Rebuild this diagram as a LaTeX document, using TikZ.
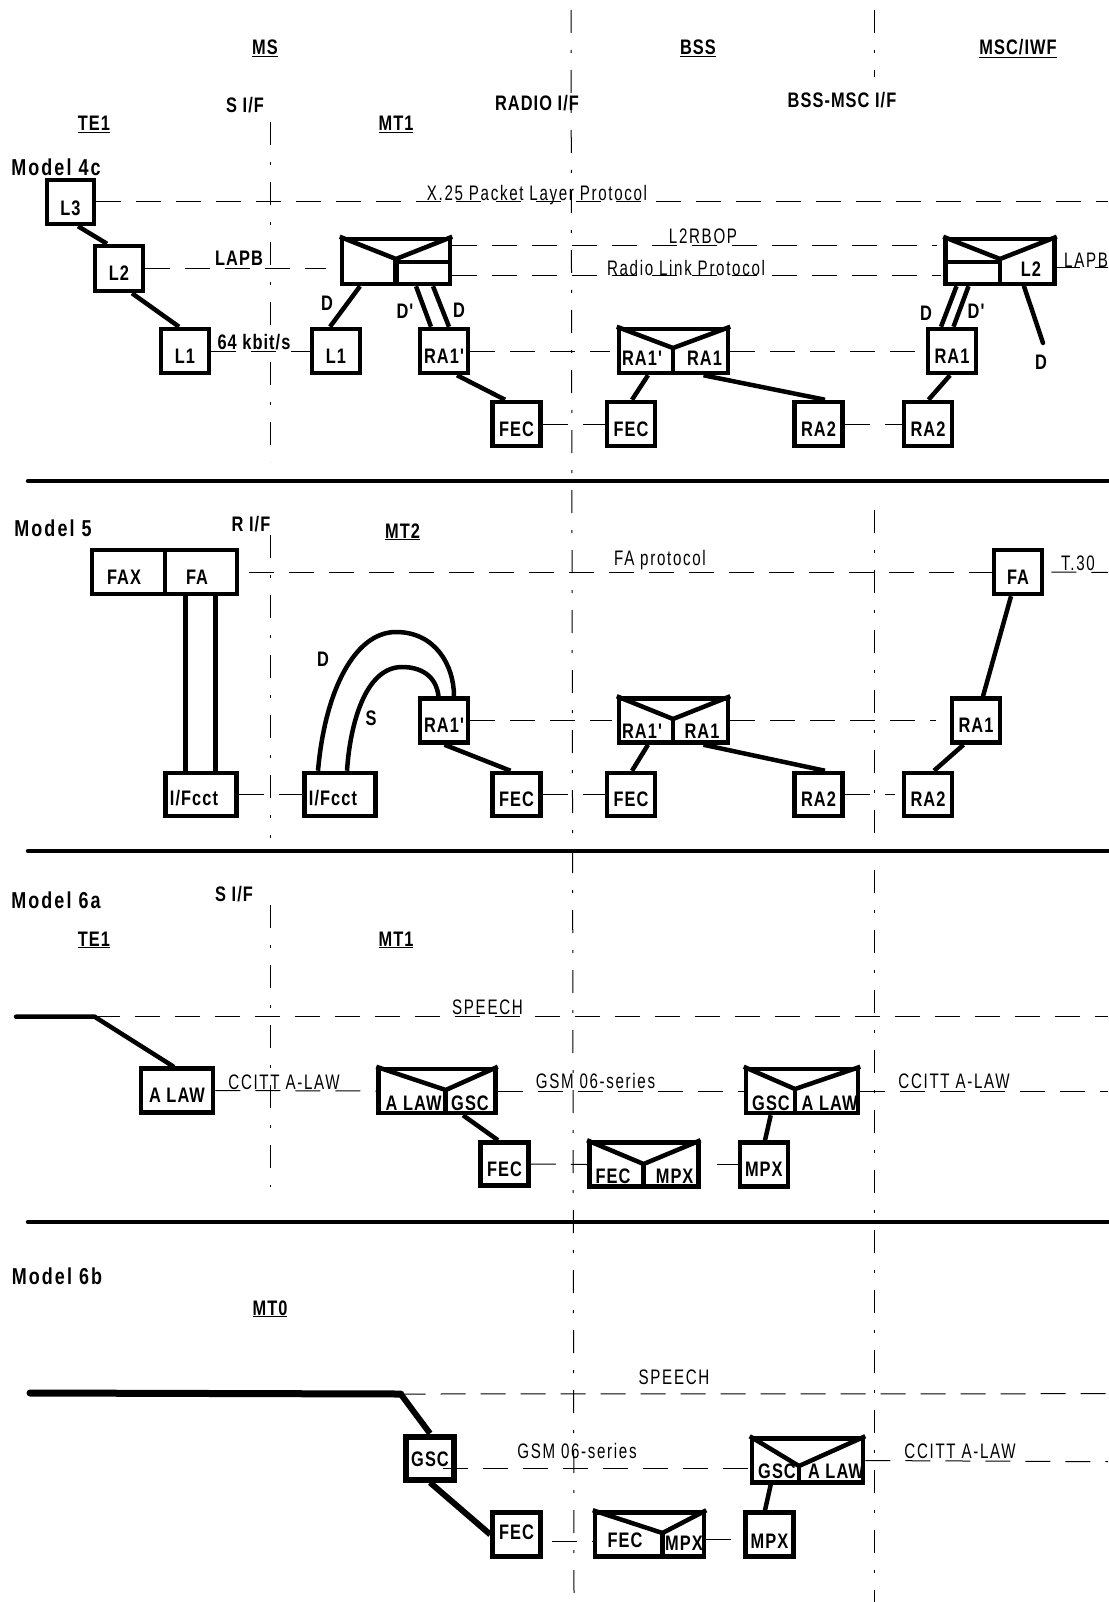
\documentclass[tikz,border=0pt]{standalone}
\usepackage{fontspec}
\setmainfont{Liberation Sans}[Ligatures=TeXOff,FakeStretch=0.72,LetterSpace=8]
\newfontfamily\bfam{Liberation Sans Bold}[Ligatures=TeXOff,FakeStretch=0.78,LetterSpace=5]
\newfontfamily\mfam{Liberation Sans Bold}[Ligatures=TeXOff,FakeStretch=0.78,LetterSpace=9]
\tikzset{
lyr/.style={line width=4.5pt},
hrule/.style={line width=4.5pt,line cap=round},
dashrow/.style={line width=1pt,dash pattern=on 25pt off 15pt},
ifline/.style={line width=1pt,dash pattern=on 23pt off 17pt on 3pt off 17pt},
boxn/.style={draw,line width=4.5pt,inner sep=0pt,minimum width=48pt,minimum height=44pt,text height=25pt,text depth=1pt,font=\fontsize{21}{24}\bfam},
txt/.style={anchor=base,inner sep=0pt,font=\fontsize{21}{24}\selectfont},
btxt/.style={anchor=base,inner sep=0pt,font=\fontsize{21}{24}\bfam},
mtxt/.style={anchor=base,inner sep=0pt,font=\fontsize{23}{26}\mfam}
}
\begin{document}
\begin{tikzpicture}[x=1pt,y=-1pt]
\useasboundingbox (0,0) rectangle (1108,1602);
\coordinate (sa0) at (270,122);
\coordinate (sa1) at (270,462);
\coordinate (ra0) at (270,535);
\coordinate (ra1) at (270,838);
\coordinate (sb0) at (270,905);
\coordinate (sb1) at (270,1187);
\coordinate (radio0) at (571,10);
\coordinate (radio1) at (574,1595);
\coordinate (bm0) at (874,10);
\coordinate (bm1) at (874,77);
\coordinate (bm2) at (874,510);
\coordinate (bm3) at (874,1602);
\draw[ifline] (sa0) -- (sa1);
\draw[ifline] (ra0) -- (ra1);
\draw[ifline] (sb0) -- (sb1);
\draw[ifline] (radio0) -- (radio1);
\draw[ifline] (bm0) -- (bm1);
\draw[ifline] (bm2) -- (bm3);
\coordinate (rl1) at (28,481);
\coordinate (rr1) at (1108,481);
\coordinate (rl2) at (28,851);
\coordinate (rr2) at (1108,851);
\coordinate (rl3) at (28,1222);
\coordinate (rr3) at (1108,1222);
\draw[hrule] (rl1) -- (rr1);
\draw[hrule] (rl2) -- (rr2);
\draw[hrule] (rl3) -- (rr3);

\node[btxt] (tms) at (265,55) {\underline{MS}};
\node[btxt] (tbss) at (698,55) {\underline{BSS}};
\node[btxt] (tmsc) at (1018,55) {\underline{MSC/IWF}};
\node[btxt] (tsif) at (245,113) {S I/F};
\node[btxt] (tradio) at (537,111) {RADIO I/F};
\node[btxt] (tbm) at (842,108) {BSS-MSC I/F};
\node[btxt] (tte) at (94,131) {\underline{TE1}};
\node[btxt] (tmt) at (396,131) {\underline{MT1}};
\node[mtxt] (tm4) at (56,176) {Model 4c};
\node[txt] (tx25) at (537,201) {X.25 Packet Layer Protocol};
\node[txt] (tl2r) at (703,244) {L2RBOP};
\node[txt] (trlp) at (686,276) {Radio Link Protocol};
\node[btxt] (tlapb) at (239,266) {LAPB};
\node[txt,anchor=base west] (tlapc) at (1064,268) {LAPB};
\node[btxt] (t64) at (254,349) {64 kbit/s};
\node[btxt] (td1) at (327,311) {D};
\node[btxt] (td2) at (405,318) {D'};
\node[btxt] (td3) at (459,317) {D};
\node[btxt] (td4) at (926,320) {D};
\node[btxt] (td5) at (976,318) {D'};
\node[btxt] (td6) at (1041,369) {D};

\node[boxn,minimum width=47pt,text height=28pt] (l3) at (70.5,202) {L3};
\node[boxn,minimum height=45pt] (l2) at (119,268.5) {L2};
\node[boxn] (l1a) at (185,351) {L1};
\node[boxn] (l1b) at (336,351) {L1};
\node[boxn] (ra1a) at (444,351) {RA1'};
\node[boxn] (feca) at (516.5,424) {FEC};
\node[boxn] (fecb) at (631,424) {FEC};
\node[boxn] (ra2a) at (818.5,424) {RA2};
\node[boxn] (ra2b) at (928,424) {RA2};
\node[boxn] (ra1b) at (952,351) {RA1};
\node[boxn,minimum width=108pt,minimum height=45pt] (env1) at (396,261.5) {};
\node[boxn,minimum width=109pt] (env2) at (673.5,351) {};
\node[boxn,minimum width=109pt,minimum height=45pt] (env3) at (1000,261.5) {};
\node[btxt] (t21) at (642,365) {RA1'};
\node[btxt] (t22) at (704.5,365) {RA1};
\node[btxt] (t31) at (1031,277) {L2};
\coordinate (env1v) at (396,259);
\coordinate (env1h) at (396,262);
\coordinate (env2v) at (673,348);
\coordinate (env3v) at (1000,259);
\coordinate (env3h) at (1000,262);
\draw[lyr] (env1.north west) -- (env1v) -- (env1.north east);
\draw[line width=6pt] (env1v) -- (env1v |- env1.south);
\draw[lyr] (env1h) -- (env1h -| env1.east);
\draw[lyr] (env2.north west) -- (env2v) -- (env2.north east);
\draw[lyr] (env2v) -- (env2v |- env2.south);
\draw[lyr] (env3.north west) -- (env3v) -- (env3.north east);
\draw[lyr] (env3v) -- (env3v |- env3.south);
\draw[lyr] (env3h) -- (env3h -| env3.west);

\draw[lyr] ([xshift=7.5pt]l3.south) -- ([xshift=-12pt]l2.north);
\draw[lyr] ([xshift=13pt]l2.south) -- ([xshift=-6pt]l1a.north);
\draw[lyr] ([xshift=-36pt]env1.south) -- ([xshift=-6pt]l1b.north);
\draw[lyr] ([xshift=20pt]env1.south) -- ([xshift=-13pt]ra1a.north);
\draw[lyr] ([xshift=37pt]env1.south) -- ([xshift=5pt]ra1a.north);
\draw[lyr] ([xshift=13pt]ra1a.south) -- ([xshift=-11.5pt]feca.north);
\draw[lyr] ([xshift=-25.5pt]env2.south) -- ([xshift=1pt]fecb.north);
\draw[lyr] ([xshift=30pt]env2.south) -- ([xshift=6.5pt]ra2a.north);
\draw[lyr] ([xshift=-2pt]ra1b.south) -- ([xshift=0.5pt]ra2b.north);
\draw[lyr] ([xshift=-43.5pt]env3.south) -- ([xshift=-11pt]ra1b.north);
\draw[lyr] ([xshift=-31.5pt]env3.south) -- ([xshift=1.5pt]ra1b.north);
\coordinate (dend) at (1043,343);
\draw[lyr,line cap=round] ([xshift=24pt]env3.south) -- (dend);

\coordinate (x25r) at (1108,202);
\coordinate (lapr) at (1108,268);
\coordinate (rowa) at (1055,268);
\draw[dashrow] (l3.east) -- (x25r);
\draw[dashrow] (l2.east) -- ([xshift=-14pt]env1.west |- l2.east);
\draw[dashrow] ([yshift=-14.5pt]env1.east) -- ([yshift=-14.5pt,xshift=-2pt]env3.west);
\draw[dashrow] ([yshift=15.5pt]env1.east) -- ([yshift=15.5pt,xshift=-6pt]env3.west);
\draw[dashrow] (rowa) -- (lapr);
\draw[dashrow] (l1a.east) -- (l1b.west);
\draw[dashrow] (ra1a.east) -- ([xshift=-7pt]env2.west);
\draw[dashrow] (env2.east) -- (ra1b.west);
\draw[dashrow] (feca.east) -- (fecb.west);
\draw[dashrow] (ra2a.east) -- (ra2b.west);

\node[mtxt] (tm5) at (53,536) {Model 5};
\node[btxt] (trif) at (251,531) {R I/F};
\node[btxt] (tmt2) at (402.5,538) {\underline{MT2}};
\node[txt] (tfap) at (660,565) {FA protocol};
\node[txt] (tt30) at (1078,570) {T.30};
\node[btxt] (tdc) at (323,666) {D};
\node[btxt] (tsc) at (371,725) {S};

\node[boxn,minimum width=73pt] (fax) at (128.5,572) {FAX\hspace*{9pt}};
\node[boxn,minimum width=72pt] (faa) at (201,572) {FA\hspace*{8pt}};
\node[boxn] (fab) at (1018,572) {FA};
\node[boxn,minimum width=71pt,minimum height=43pt,text height=22pt] (ifa) at (201,794.5) {I/Fcct\hspace*{14pt}};
\node[boxn,minimum width=71pt,minimum height=43pt,text height=22pt] (ifb) at (340,794.5) {I/Fcct\hspace*{14pt}};
\node[boxn] (ra1c) at (444,720.5) {RA1'};
\node[boxn,minimum height=43pt] (fecc) at (516.5,794.5) {FEC};
\node[boxn,minimum height=43pt] (fecd) at (631,794.5) {FEC};
\node[boxn,minimum height=43pt] (ra2c) at (818.5,794.5) {RA2};
\node[boxn,minimum height=43pt] (ra2d) at (928,794.5) {RA2};
\node[boxn] (ra1d) at (976,720.5) {RA1};
\node[boxn,minimum width=109pt] (env4) at (673.5,720.5) {};
\node[btxt] (t41) at (642,738) {RA1'};
\node[btxt] (t42) at (702,738) {RA1};
\coordinate (env4v) at (673,719);
\draw[lyr] (env4.north west) -- (env4v) -- (env4.north east);
\draw[lyr] (env4v) -- (env4v |- env4.south);

\draw[lyr] ([xshift=-15.5pt]faa.south) -- ([xshift=-15.5pt]ifa.north);
\draw[lyr] ([xshift=14.5pt]faa.south) -- ([xshift=14.5pt]ifa.north);
\draw[lyr] ([xshift=-22pt]ifb.north) .. controls (325,690) and (355,632) .. (396,632) .. controls (435,632) and (454,665) .. ([xshift=10pt]ra1c.north);
\draw[lyr] ([xshift=7pt]ifb.north) .. controls (350,725) and (365,667) .. (402,667) .. controls (420,667) and (436,675) .. ([xshift=-5.5pt]ra1c.north);
\draw[lyr] ([xshift=0.5pt]ra1c.south) -- ([xshift=-6pt]fecc.north);
\draw[lyr] ([xshift=-25.5pt]env4.south) -- ([xshift=1pt]fecd.north);
\draw[lyr] ([xshift=30pt]env4.south) -- ([xshift=6.5pt]ra2c.north);
\draw[lyr] ([xshift=-7pt]fab.south) -- ([xshift=7pt]ra1d.north);
\draw[lyr] ([xshift=-12.5pt]ra1d.south) -- ([xshift=6pt]ra2d.north);

\coordinate (t30r) at (1108,572.5);
\draw[dashrow] ([xshift=10pt]faa.east) -- (fab.west);
\draw[dashrow] ([xshift=7pt]fab.east) -- (t30r);
\draw[dashrow] (ifa.east) -- (ifb.west);
\draw[dashrow] (ra1c.east) -- ([xshift=-5pt]env4.west);
\draw[dashrow] (env4.east) -- ([xshift=-14pt]ra1d.west);
\draw[dashrow] (fecc.east) -- (fecd.west);
\draw[dashrow] (ra2c.east) -- ([xshift=-7pt]ra2d.west);

\node[mtxt] (tm6) at (56,908) {Model 6a};
\node[btxt] (tsif2) at (234,901) {S I/F};
\node[btxt] (tte2) at (94,946) {\underline{TE1}};
\node[btxt] (tmt3) at (396,946) {\underline{MT1}};
\node[txt] (tsp1) at (487.5,1014) {SPEECH};
\node[txt] (tca1) at (284,1089) {CCITT A-LAW};
\node[txt] (tgsm1) at (595.5,1088) {GSM 06-series};
\node[txt] (tca2) at (954,1088) {CCITT A-LAW};

\node[boxn,minimum width=72pt] (alaw) at (177,1090.5) {A LAW};
\node[boxn,minimum width=117pt] (env5) at (437,1091) {};
\node[boxn,minimum height=43pt] (fece) at (504.5,1164) {FEC};
\node[boxn,minimum width=109pt] (env6) at (643.8,1164.5) {};
\node[boxn] (mpxa) at (763.8,1164.5) {MPX};
\node[boxn,minimum width=112pt] (env7) at (802,1091) {};
\node[btxt] (t51) at (413.6,1110.7) {A LAW};
\node[btxt] (t52) at (470,1110.7) {GSC};
\node[btxt] (t61) at (613,1183) {FEC};
\node[btxt] (t62) at (674.6,1183) {MPX};
\node[btxt] (t71) at (771,1110) {GSC};
\node[btxt] (t72) at (829.6,1110) {A LAW};
\coordinate (env5v) at (445.7,1090);
\coordinate (env6v) at (643.6,1164);
\coordinate (env7v) at (795,1089);
\draw[lyr] (env5.north west) -- (env5v) -- (env5.north east);
\draw[lyr] (env5v) -- (env5v |- env5.south);
\draw[lyr] (env6.north west) -- (env6v) -- (env6.north east);
\draw[lyr] (env6v) -- (env6v |- env6.south);
\draw[lyr] (env7.north west) -- (env7v) -- (env7.north east);
\draw[lyr] (env7v) -- (env7v |- env7.south);

\coordinate (spa0) at (16,1016.7);
\coordinate (spa1) at (94.6,1016.7);
\coordinate (spar) at (1108,1016.7);
\coordinate (cala) at (1108,1091);
\draw[lyr,line cap=round] (spa0) -- (spa1) -- ([xshift=-4pt]alaw.north);
\draw[dashrow] (spa1) -- (spar);
\draw[dashrow] (alaw.east) -- (env5.west);
\draw[dashrow] (env5.east) -- (env7.west);
\draw[dashrow] (env7.east) -- (cala);
\draw[lyr] ([xshift=26pt]env5.south) -- ([xshift=-6.5pt]fece.north);
\draw[lyr] ([xshift=-31.3pt]env7.south) -- ([xshift=1.2pt]mpxa.north);
\draw[dashrow] (fece.east) -- (env6.west);
\draw[dashrow] ([xshift=16pt]env6.east) -- (mpxa.west);

\node[mtxt] (tm7) at (57,1284) {Model 6b};
\node[btxt] (tmt0) at (270,1315) {\underline{MT0}};
\node[txt] (tsp2) at (674,1384) {SPEECH};
\node[txt] (tgsm2) at (577,1458) {GSM 06-series};
\node[txt] (tca3) at (960,1458) {CCITT A-LAW};

\node[boxn,line width=6pt,minimum height=43pt,text height=17pt] (gsc) at (430,1458) {GSC};
\node[boxn,text height=10pt] (fecf) at (516.5,1534.5) {FEC};
\node[boxn,text height=28pt] (mpxb) at (769.5,1534.5) {MPX};
\node[boxn,minimum width=109pt] (env8) at (649.5,1534.5) {};
\node[boxn,minimum width=111pt] (env9) at (807.5,1460.5) {};
\node[btxt] (t81) at (625,1547) {FEC};
\node[btxt] (t82) at (684,1550) {MPX};
\node[btxt] (t91) at (777,1478) {GSC};
\node[btxt] (t92) at (836,1478) {A LAW};
\coordinate (env8v) at (662.5,1533);
\coordinate (env9v) at (799,1466);
\draw[lyr] (env8.north west) -- (env8v) -- (env8.north east);
\draw[lyr] (env8v) -- (env8v |- env8.south);
\draw[lyr] (env9.north west) -- (env9v) -- (env9.north east);
\draw[lyr] (env9v) -- (env9v |- env9.south);

\coordinate (spb0) at (30,1393);
\coordinate (spb1) at (400.7,1394);
\coordinate (spbr) at (1108,1393.7);
\coordinate (calb) at (1108,1461.7);
\coordinate (gsr) at (443,1468);
\coordinate (gsl) at (750,1468);
\coordinate (ferow) at (552,1541.7);
\coordinate (ferowb) at (593,1541.7);
\coordinate (mprow) at (706,1539);
\coordinate (mprowb) at (745,1539);
\draw[line width=7pt,line cap=round] (spb0) -- (spb1);
\draw[line width=6pt] (spb1) -- (gsc.north);
\draw[line width=6pt] (gsc.south) -- (fecf.west);
\draw[dashrow] (spb1) -- (spbr);
\draw[dashrow] (gsr) -- (gsl);
\draw[dashrow] (env9.east) -- (calb);
\draw[dashrow] (ferow) -- (ferowb);
\draw[dashrow] (mprow) -- (mprowb);
\draw[lyr] ([xshift=-36.8pt]env9.south) -- ([xshift=-4.5pt]mpxb.north);
\end{tikzpicture}
\end{document}
